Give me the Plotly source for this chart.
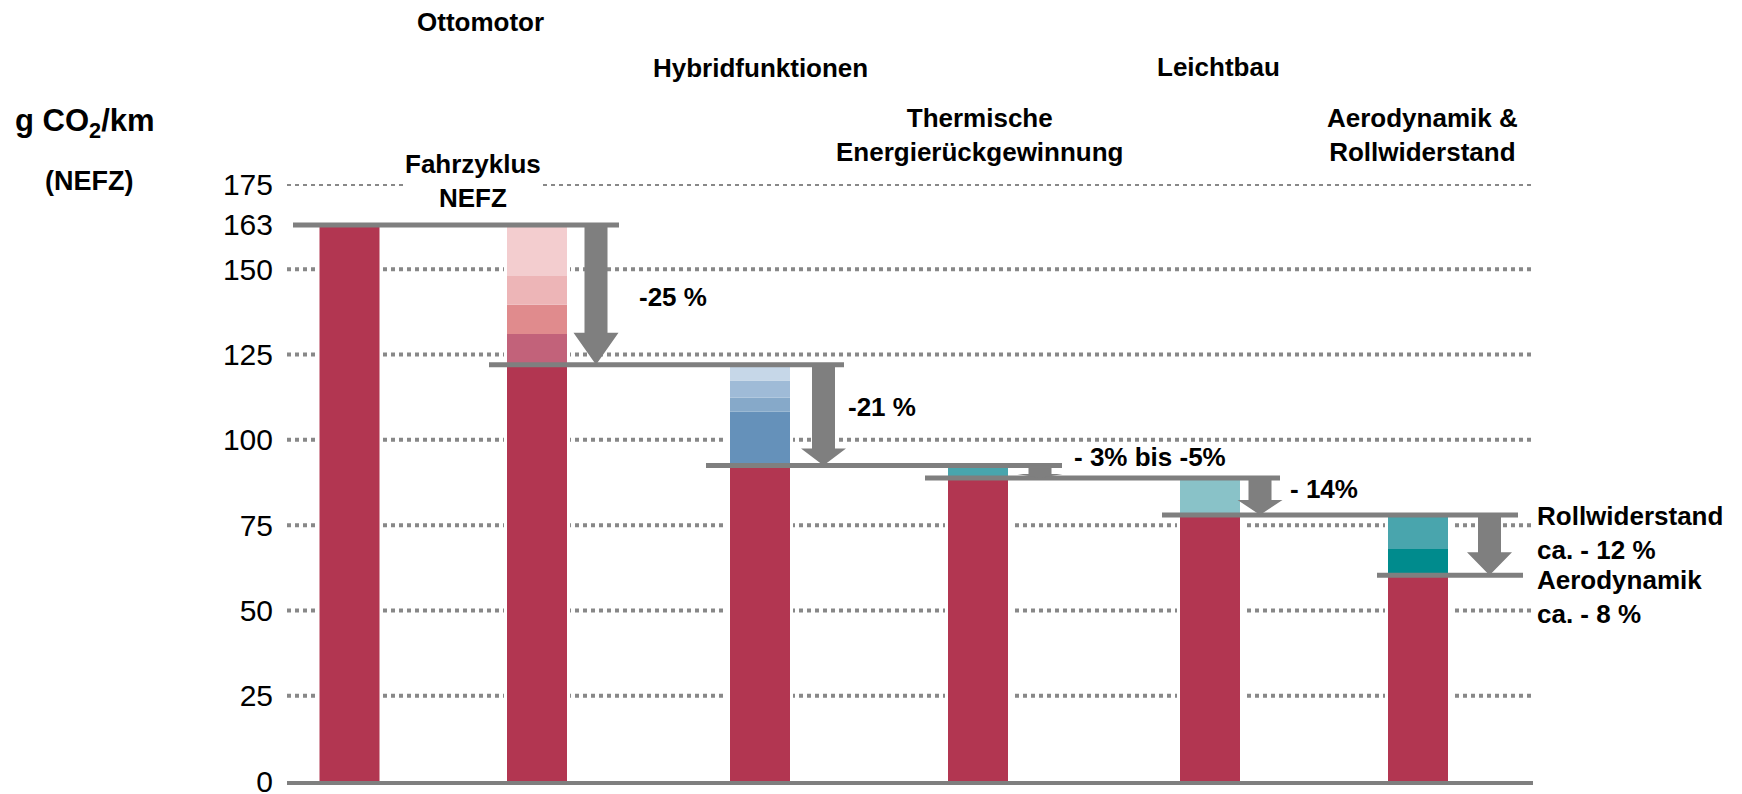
import plotly.graph_objects as go

# ---------------- data ----------------
stage_labels = ["Ottomotor", "Hybridfunktionen", "Thermische<br>Energierückgewinnung",
                "Leichtbau", "Aerodynamik &<br>Rollwiderstand"]
cycle_label = "Fahrzyklus<br>NEFZ"
y_title = "g CO<sub>2</sub>/km"
y_subtitle = "(NEFZ)"
grid_ticks = [25, 50, 75, 100, 125, 150, 175]
label_ticks = [0, 25, 50, 75, 100, 125, 150, 163, 175]
label_text = ["0", "25", "50", "75", "100", "125", "150", "163", "175"]

# CO2 level (g/km) after each step; bar i is crimson up to levels[i]
levels = [163, 122, 92.5, 88.8, 78, 60.3]
# savings segments stacked on top of the crimson part (bottom -> top)
seg_fahrzyklus = [9.0, 8.6, 8.4, 15.0]
seg_hybrid = [15.8, 4.1, 5.0, 4.6]
seg_thermo = [3.7]
seg_leicht = [10.8]
seg_aero = [7.7, 10.0]
step_labels = ["-25 %", "-21 %", "- 3% bis -5%", "- 14%"]
final_labels = ["Rollwiderstand<br>ca. - 12 %", "Aerodynamik<br>ca. - 8 %"]

# ---------------- style / layout ----------------
OFF = 8                               # page body margin
W, H = 1742 - OFF, 794 - OFF
L, R, T, B = 287 - OFF, 209, 184 - OFF, 13
PW, PH = W - L - R, H - T - B
PXU = 200.0                           # pixels per x unit
x_range = [-0.3125, -0.3125 + PW / PXU]
y_range = [0, 175]
YU = (y_range[1] - y_range[0]) / PH   # y units per pixel
bar_pos = [0, 0.9375, 2.0525, 3.1425, 4.3025, 5.3425]
bar_w = 0.3

CRIMSON = "#B23651"
GRAY = "#7F7F7F"
GRID = "#888888"
seg_colors = [
    ["#C2627A", "#E08B8D", "#EDB5B7", "#F3CDCF"],
    ["#6591BA", "#86A9C9", "#9FBBD7", "#C6D7E8"],
    ["#48A5AD"],
    ["#89C2C8"],
    ["#008B8D", "#49A5AD"],
]
segments = [seg_fahrzyklus, seg_hybrid, seg_thermo, seg_leicht, seg_aero]

FONT = "Liberation Sans, Arial, sans-serif"


def px_x(px):
    return (px - OFF - L) / PW


def px_y(py):
    return (H - B - (py - OFF)) / PH


fig = go.Figure()

# crimson base bars
fig.add_trace(go.Bar(x=bar_pos, y=levels, width=bar_w, marker_color=CRIMSON,
                     marker_line_width=0, hoverinfo="skip"))

# savings segments
bar_tops = [levels[0]]
for i, (segs, cols) in enumerate(zip(segments, seg_colors)):
    base = levels[i + 1]
    for h, c in zip(segs, cols):
        fig.add_trace(go.Bar(x=[bar_pos[i + 1]], y=[h], base=[base], width=bar_w,
                             marker_color=c, marker_line_width=0, hoverinfo="skip"))
        base += h
    bar_tops.append(base)

shapes = []
# dotted gridlines
for v in grid_ticks:
    shapes.append(dict(type="line", xref="paper", yref="y", x0=0, x1=1, y0=v, y1=v,
                       line=dict(color=GRID, width=4, dash="4px,4px"), layer="below"))
# white gaps around bars
gap = 3 / PXU
for p, top in zip(bar_pos, bar_tops):
    shapes.append(dict(type="rect", xref="x", yref="y", x0=p - bar_w / 2 - gap,
                       x1=p + bar_w / 2 + gap, y0=0, y1=top,
                       fillcolor="white", line=dict(width=0), layer="below"))

# step lines (levels)
line_left_px = [56.5, 48, 54, 53, 48, 41]
line_right_px = [82, 84, 84, 70, 100, 105]
for i, lv in enumerate(levels):
    j = min(i + 1, len(bar_pos) - 1)
    x0 = bar_pos[i] - line_left_px[i] / PXU
    x1 = bar_pos[j] + line_right_px[i] / PXU
    shapes.append(dict(type="line", xref="x", yref="y", x0=x0, x1=x1, y0=lv, y1=lv,
                       line=dict(color=GRAY, width=5), layer="above"))

# block arrows
arrow_off_px = [59, 63.5, 62, 50, 71.5]
head_px = [32, 17, 4, 15, 23]
shaft_w = 23 / PXU
head_w = 45 / PXU
for i in range(len(levels) - 1):
    cx = bar_pos[i + 1] + arrow_off_px[i] / PXU
    ytop = levels[i]
    ytip = levels[i + 1]
    yneck = ytip + head_px[i] * YU
    path = (f"M {cx - shaft_w/2},{ytop} L {cx + shaft_w/2},{ytop} "
            f"L {cx + shaft_w/2},{yneck} L {cx + head_w/2},{yneck} L {cx},{ytip} "
            f"L {cx - head_w/2},{yneck} L {cx - shaft_w/2},{yneck} Z")
    shapes.append(dict(type="path", xref="x", yref="y", path=path,
                       fillcolor=GRAY, line=dict(width=0), layer="above"))

annotations = []


def add_text(text, px, py, size=26, xanchor="center", bg=None):
    annotations.append(dict(
        text=f"<b>{text}</b>",
        xref="paper", yref="paper", x=px_x(px), y=px_y(py),
        xanchor=xanchor, yanchor="middle", showarrow=False,
        align=xanchor if xanchor != "center" else "center",
        font=dict(family=FONT, size=size, color="black"),
        bgcolor=bg, borderpad=1))


# stage headings (positions in reference pixels)
stage_px = [(480, 22), (760, 68), (980, 135.5), (1218, 67), (1422, 135.5)]
for t, (px, py) in zip(stage_labels, stage_px):
    add_text(t, px, py)
add_text(cycle_label, 473, 181, bg="white")
add_text(y_title, 85, 123, size=31)
add_text(y_subtitle, 89, 181, size=27)

# step percentages
step_px = [(637, 297), (846, 407), (1072, 457), (1288, 489)]
for t, (px, py) in zip(step_labels, step_px):
    add_text(t, px, py, xanchor="left")
final_px = [(1535, 532.5), (1535, 596.5)]
for t, (px, py) in zip(final_labels, final_px):
    add_text(t, px, py, xanchor="left")

fig.update_layout(
    width=W, height=H,
    margin=dict(l=L, r=R, t=T, b=B, autoexpand=False),
    paper_bgcolor="white", plot_bgcolor="white",
    showlegend=False, barmode="overlay",
    shapes=shapes, annotations=annotations,
    xaxis=dict(range=x_range, showgrid=False, zeroline=False, showticklabels=False,
               showline=True, linecolor=GRAY, linewidth=4, ticks="", fixedrange=True),
    yaxis=dict(range=y_range, showgrid=False, zeroline=False, showline=False,
               tickvals=label_ticks, ticktext=label_text, ticks="",
               ticklabelstandoff=13, ticklabeloverflow="allow",
               tickfont=dict(family=FONT, size=30, color="black"), fixedrange=True),
)

fig.write_html("out.html")
